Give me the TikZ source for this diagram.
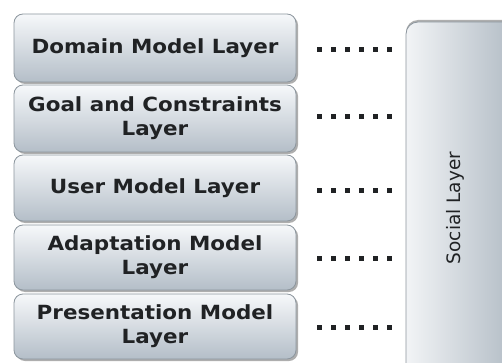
\documentclass[tikz,border=0pt]{standalone}
\usepackage{fontspec}
\setmainfont{DejaVu Sans}
\newfontfamily\layerfont[FakeStretch=1.1]{DejaVu Sans Bold}
\usetikzlibrary{shadows}
\definecolor{boxtop}{HTML}{F6F8FA}
\definecolor{boxbot}{HTML}{B4BEC8}
\definecolor{boxline}{HTML}{8C969E}
\definecolor{socleft}{HTML}{F2F4F6}
\definecolor{socright}{HTML}{A9B4BE}
\definecolor{inktext}{HTML}{202224}
\tikzset{
  layerbox/.style={draw=boxline, line width=0.8pt, rounded corners=9pt,
    top color=boxtop, bottom color=boxbot,
    drop shadow={shadow xshift=2pt, shadow yshift=-2pt, opacity=0.45, fill=black!70},
    text=inktext, align=center, inner sep=0pt,
    minimum width=282pt,
    font=\layerfont\fontsize{19.5}{24}\selectfont},
  socialbox/.style={draw=boxline, line width=0.8pt, rounded corners=12pt,
    left color=socleft, right color=socright,
    drop shadow={shadow xshift=0pt, shadow yshift=2pt, opacity=0.45, fill=black!70},
    minimum width=124pt, minimum height=368pt, inner sep=0pt},
  dotrow/.style={line width=5pt, dash pattern=on 5pt off 9pt, inktext}
}
\begin{document}
\begin{tikzpicture}[x=1pt,y=-1pt]
  \useasboundingbox (0,0) rectangle (502,363);
  \clip (0,0) rectangle (502,363);
  \fill[white] (0,0) rectangle (502,363);
  % left-hand stack of layers
  \node[layerbox, minimum height=68pt] (b1) at (155,48) {Domain Model Layer};
  \node[layerbox, minimum height=67pt] (b2) at (155,118.5) {Goal and Constraints\\Layer};
  \node[layerbox, minimum height=66pt] (b3) at (155,188) {User Model Layer};
  \node[layerbox, minimum height=65pt] (b4) at (155,257.5) {Adaptation Model\\Layer};
  \node[layerbox, minimum height=65pt] (b5) at (155,326.5) {Presentation Model\\Layer};
  % social layer on the right, running off the page edge
  \node[socialbox] (socbox) at (468,206) {};
  \node[rotate=90, text=inktext, font=\fontsize{18.5}{22}\selectfont] (soc) at (455,208) {Social Layer};
  % dotted links between each layer and the social layer
  \foreach \i/\y in {1/50,2/117,3/190,4/258,5/327} {
    \coordinate (l\i) at (317,\y);
    \coordinate (r\i) at (393,\y);
    \draw[dotrow] (l\i) -- (r\i);
  }
\end{tikzpicture}
\end{document}
